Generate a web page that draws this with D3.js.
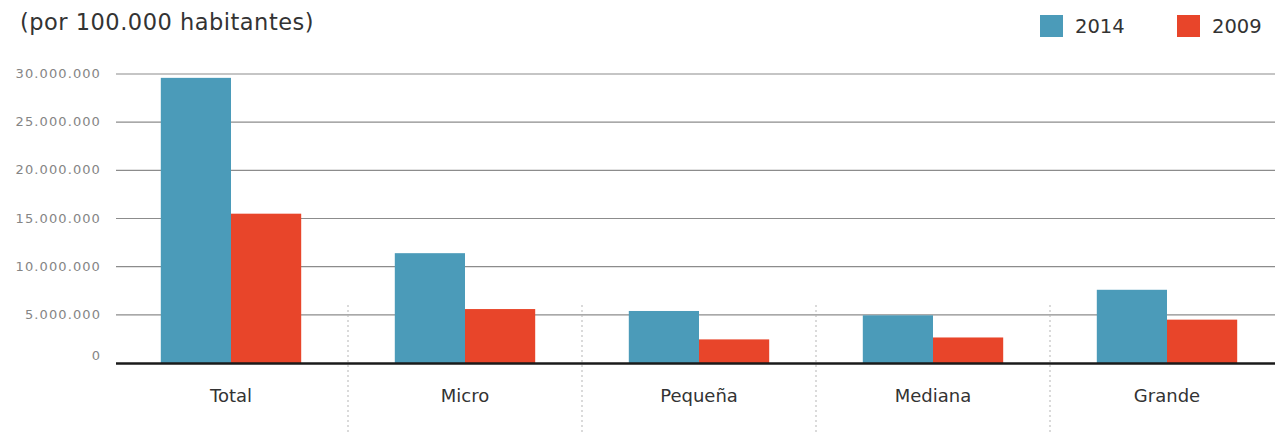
<!DOCTYPE html>
<html><head><meta charset="utf-8">
<script src="https://cdn.jsdelivr.net/npm/d3@7/dist/d3.min.js"></script>
<style>body{margin:0;background:#fff}svg{display:block}</style>
</head><body><svg id="c" width="1275" height="435"></svg>
<script>
const categories = ["Total","Micro","Pequeña","Mediana","Grande"];
const series = ["2014","2009"];
const values2014 = [29600000, 11400000, 5400000, 4950000, 7600000];
const values2009 = [15500000, 5600000, 2450000, 2650000, 4500000];
const yTicks = [0, 5000000, 10000000, 15000000, 20000000, 25000000, 30000000];
const subtitle = "(por 100.000 habitantes)";
const colors = ["#4b9bb9", "#e8452a"];

const font = "'DejaVu Sans', sans-serif";
const svg = d3.select("#c");
const locale = d3.formatLocale({decimal:",", thousands:".", grouping:[3], currency:["",""]});
const fmt = locale.format(",");

const y = d3.scaleLinear().domain([0, 30000000]).range([363, 74]);
const x = d3.scaleBand().domain(categories).range([114, 1284]).paddingInner(0.4).paddingOuter(0.2);
const xs = d3.scaleBand().domain(series).range([0, x.bandwidth()]);

// y tick labels
const yAxis = d3.axisLeft(y).tickValues(yTicks).tickFormat(d => fmt(d)).tickSize(0).tickPadding(-1);
const gy = svg.append("g").attr("transform","translate(100,0)").call(yAxis);
gy.select(".domain").remove();
gy.selectAll("text").attr("font-family", font).attr("font-size", 13).attr("letter-spacing", 1.1)
  .attr("fill", "#858585").attr("dy", d => d === 0 ? "-0.3em" : "0.27em");

// grid
svg.append("g").selectAll("line").data(yTicks.filter(d=>d>0)).join("line")
  .attr("x1",116).attr("x2",1275).attr("y1",d=>y(d)).attr("y2",d=>y(d))
  .attr("stroke","#8c8c8c").attr("stroke-width",1.2);

// separators
const step = x.step();
svg.append("g").selectAll("line").data(categories.slice(1)).join("line")
  .attr("x1",d=>x(d)-(step-x.bandwidth())/2).attr("x2",d=>x(d)-(step-x.bandwidth())/2)
  .attr("y1",305).attr("y2",435)
  .attr("stroke","#b5b5b5").attr("stroke-width",1).attr("stroke-dasharray","2,3");

// bars
const data = categories.map((c,i)=>({c, vals:[values2014[i], values2009[i]]}));
svg.append("g").selectAll("g").data(data).join("g")
  .attr("transform", d=>`translate(${x(d.c)},0)`)
  .selectAll("rect").data(d=>d.vals.map((v,j)=>({s:series[j], v, j}))).join("rect")
  .attr("x", d=>xs(d.s)).attr("width", xs.bandwidth())
  .attr("y", d=>y(d.v)).attr("height", d=>y(0)-y(d.v))
  .attr("fill", d=>colors[d.j]);

// baseline
svg.append("line").attr("x1",116).attr("x2",1275).attr("y1",y(0)+0.5).attr("y2",y(0)+0.5)
  .attr("stroke","#1a1a1a").attr("stroke-width",2.5);

// x labels
const xAxis = d3.axisBottom(x).tickSize(0).tickPadding(0);
const gx = svg.append("g").attr("transform","translate(0,402)").call(xAxis);
gx.select(".domain").remove();
gx.selectAll("text").attr("font-family", font).attr("font-size", 18).attr("fill","#333").attr("dy","0");

// subtitle
svg.append("text").attr("x",20).attr("y",30).text(subtitle)
  .attr("font-family", font).attr("font-size", 22.5).attr("letter-spacing", 0.5).attr("fill","#333");

// legend
const legX = [1040, 1177];
const lg = svg.append("g").selectAll("g").data(series).join("g")
  .attr("transform",(d,i)=>`translate(${legX[i]},15)`);
lg.append("rect").attr("width",23).attr("height",22).attr("fill",(d,i)=>colors[i]);
lg.append("text").attr("x",35).attr("y",18).text(d=>d)
  .attr("font-family", font).attr("font-size", 19.5).attr("fill","#333");
</script></body></html>
